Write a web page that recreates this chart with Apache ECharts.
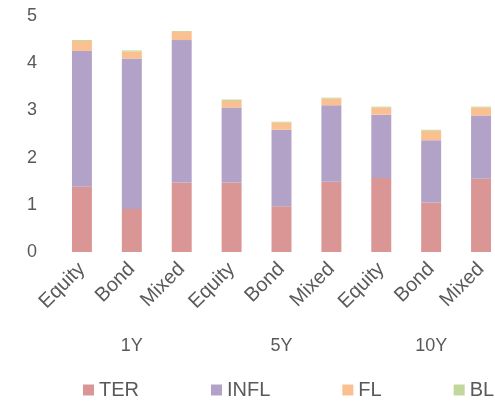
<!DOCTYPE html>
<html>
<head>
<meta charset="utf-8">
<script src="https://cdn.jsdelivr.net/npm/echarts@6/dist/echarts.min.js"></script>
<style>
  html, body { margin: 0; padding: 0; background: #ffffff; }
  #chart { width: 495px; height: 403px; }
</style>
</head>
<body>
<div id="chart"></div>
<script>
// Fund types within each holding period
const fundTypes = ['Equity', 'Bond', 'Mixed', 'Equity', 'Bond', 'Mixed', 'Equity', 'Bond', 'Mixed'];
const periods = ['1Y', '5Y', '10Y'];

// Cost components (stacked)
const ter  = [1.38, 0.91, 1.47, 1.47, 0.97, 1.49, 1.57, 1.05, 1.55];
const infl = [2.88, 3.19, 3.02, 1.59, 1.62, 1.62, 1.34, 1.32, 1.34];
const fl   = [0.21, 0.15, 0.17, 0.14, 0.15, 0.14, 0.15, 0.20, 0.17];
const bl   = [0.02, 0.02, 0.02, 0.03, 0.02, 0.02, 0.02, 0.02, 0.02];

const yTicks = { min: 0, max: 5, interval: 1 };

const FONT = '"Liberation Sans", Arial, sans-serif';
const GREY = '#595959';

const colors = ['#d99694', '#b3a2c7', '#fac090', '#c3d69b'];

function barSeries(name, data, color) {
  return {
    name: name,
    type: 'bar',
    stack: 'total',
    data: data,
    barWidth: '40%',
    itemStyle: { color: color },
    emphasis: { disabled: true }
  };
}

const chart = echarts.init(document.getElementById('chart'), null, { renderer: 'canvas' });
chart.setOption({
  animation: false,
  color: colors,
  // the plot runs a little past the right edge of the canvas
  grid: {
    left: 57, width: 449, top: 16, height: 236,
    containLabel: false,
    outerBoundsMode: 'none'
  },
  xAxis: [
    {
      type: 'category',
      data: fundTypes,
      axisLine: { show: false },
      axisTick: { show: false },
      axisLabel: {
        rotate: 45,
        margin: 14,
        padding: [0, 0, 0, 0],
        color: GREY,
        fontFamily: FONT,
        fontSize: 20
      }
    },
    {
      type: 'category',
      data: periods,
      position: 'bottom',
      offset: 80,
      axisLine: { show: false },
      axisTick: { show: false },
      axisLabel: {
        margin: 5,
        color: GREY,
        fontFamily: FONT,
        fontSize: 18
      }
    }
  ],
  yAxis: {
    type: 'value',
    min: yTicks.min,
    max: yTicks.max,
    interval: yTicks.interval,
    splitLine: { show: false },
    axisLine: { show: false },
    axisTick: { show: false },
    axisLabel: {
      margin: 20,
      color: GREY,
      fontFamily: FONT,
      fontSize: 18
    }
  },
  legend: {
    left: 83,
    top: 380,
    padding: 0,
    icon: 'rect',
    itemWidth: 11,
    itemHeight: 11,
    itemGap: 72,
    textStyle: { color: GREY, fontFamily: FONT, fontSize: 20 },
    data: ['TER', 'INFL', 'FL', 'BL']
  },
  series: [
    barSeries('TER', ter, colors[0]),
    barSeries('INFL', infl, colors[1]),
    barSeries('FL', fl, colors[2]),
    barSeries('BL', bl, colors[3])
  ]
});
</script>
</body>
</html>
